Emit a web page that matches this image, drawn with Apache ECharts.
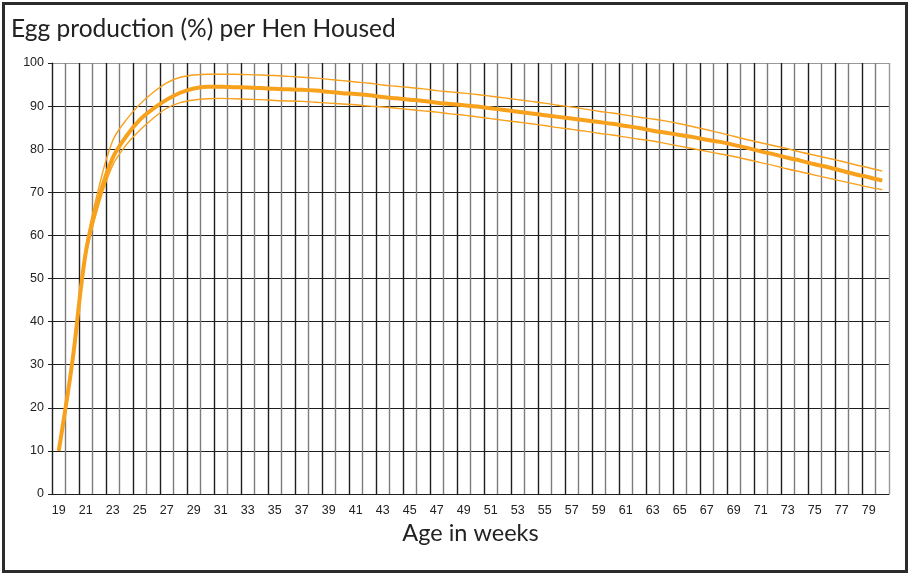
<!DOCTYPE html>
<html>
<head>
<meta charset="utf-8">
<script src="https://cdn.jsdelivr.net/npm/echarts@6/dist/echarts.min.js"></script>
<style>
  html, body { margin: 0; padding: 0; background: #fff; }
  #chart { width: 910px; height: 573px; }
</style>
</head>
<body>
<div id="chart"></div>
<script>
// weeks of age
const weeks = [];
for (let w = 19; w <= 80; w++) weeks.push(String(w));

// standard curve (%) and its upper / lower band
const standard = [
  10, 30.5, 56, 69, 78, 83, 86.8, 89.4, 91.5, 93.1,
  94.1, 94.5, 94.5, 94.4, 94.3, 94.2, 94.0, 93.9, 93.8, 93.6,
  93.3, 93.0, 92.8, 92.5, 92.1, 91.8, 91.5, 91.2, 90.8, 90.5,
  90.2, 89.9, 89.5, 89.1, 88.7, 88.3, 87.9, 87.5, 87.1, 86.7,
  86.3, 85.9, 85.4, 84.9, 84.3, 83.8, 83.3, 82.8, 82.2, 81.7,
  81.0, 80.3, 79.5, 78.8, 78.0, 77.3, 76.5, 75.8, 75.0, 74.2,
  73.5, 72.7
];
const upper = [
  10, 30.5, 57, 71.5, 82, 86.8, 90.4, 93.2, 95.4, 96.7,
  97.2, 97.4, 97.4, 97.4, 97.3, 97.2, 97.1, 96.9, 96.7, 96.5,
  96.2, 95.9, 95.6, 95.3, 94.9, 94.6, 94.3, 94.0, 93.6, 93.3,
  93.0, 92.7, 92.3, 91.9, 91.5, 91.1, 90.7, 90.2, 89.8, 89.3,
  88.8, 88.4, 87.9, 87.4, 87.0, 86.5, 85.9, 85.2, 84.5, 83.8,
  83.0, 82.2, 81.5, 80.8, 80.1, 79.3, 78.6, 77.9, 77.2, 76.4,
  75.7, 74.9
];
const lower = [
  10, 30.5, 55, 67.5, 76.3, 81.0, 84.4, 87.2, 89.5, 90.8,
  91.4, 91.7, 91.8, 91.7, 91.6, 91.5, 91.3, 91.2, 91.1, 90.9,
  90.7, 90.5, 90.3, 90.0, 89.8, 89.5, 89.2, 88.9, 88.6, 88.2,
  87.9, 87.5, 87.1, 86.7, 86.3, 85.9, 85.5, 85.0, 84.6, 84.2,
  83.7, 83.3, 82.8, 82.3, 81.9, 81.3, 80.7, 80.1, 79.5, 78.9,
  78.3, 77.6, 76.9, 76.2, 75.4, 74.7, 74.0, 73.3, 72.6, 71.9,
  71.2, 70.6
];

// alternating black / grey verticals, grey at the right edge
const vColors = [];
for (let k = 0; k <= weeks.length; k++) {
  vColors.push(k === weeks.length ? '#999' : (k % 2 === 0 ? '#1e1e1e' : '#7c7c7c'));
}
// black horizontals, grey at 100
const hColors = [];
for (let k = 0; k <= 10; k++) hColors.push(k === 10 ? '#999' : '#1e1e1e');

const orange = '#F7A11D';

const chart = echarts.init(document.getElementById('chart'));
chart.setOption({
  animation: false,
  title: {
    text: 'Egg production (%) per Hen Housed',
    left: 6,
    top: 12,
    textStyle: { fontFamily: 'Lato', fontSize: 24.5, fontWeight: 'normal', color: '#222' }
  },
  graphic: [{
    type: 'rect',
    silent: true,
    shape: { x: 3.5, y: 3.5, width: 903, height: 568 },
    style: { fill: 'none', stroke: '#2b2b2b', lineWidth: 3 }
  }],
  grid: { left: 52, right: 21, top: 63, bottom: 79 },
  xAxis: {
    type: 'category',
    data: weeks,
    boundaryGap: true,
    name: 'Age in weeks',
    nameLocation: 'middle',
    nameGap: 27,
    nameTextStyle: { fontFamily: 'Lato', fontSize: 23.5, color: '#222' },
    axisLine: { lineStyle: { color: '#1e1e1e', width: 1 } },
    axisTick: { interval: 1, length: 4, lineStyle: { color: '#1e1e1e' } },
    axisLabel: { interval: 1, margin: 10, fontFamily: 'Liberation Sans', fontSize: 12.5, color: '#222' },
    splitLine: { show: true, interval: 0, lineStyle: { color: vColors, width: 1.4 } }
  },
  yAxis: {
    type: 'value',
    min: 0,
    max: 100,
    interval: 10,
    axisLine: { show: true, lineStyle: { color: '#1e1e1e', width: 1 } },
    axisTick: { show: true, length: 4, lineStyle: { color: '#1e1e1e' } },
    axisLabel: { margin: 8, fontFamily: 'Liberation Sans', fontSize: 12.5, color: '#222' },
    splitLine: { show: true, lineStyle: { color: hColors, width: 1 } }
  },
  series: [
    {
      name: 'Upper',
      type: 'line',
      data: upper,
      smooth: 0.35,
      symbol: 'none',
      lineStyle: { color: orange, width: 1.4 },
      z: 3
    },
    {
      name: 'Lower',
      type: 'line',
      data: lower,
      smooth: 0.35,
      symbol: 'none',
      lineStyle: { color: orange, width: 1.4 },
      z: 3
    },
    {
      name: 'Standard',
      type: 'line',
      data: standard,
      smooth: 0.35,
      symbol: 'none',
      lineStyle: { color: orange, width: 4 },
      z: 4
    }
  ]
});
</script>
</body>
</html>
